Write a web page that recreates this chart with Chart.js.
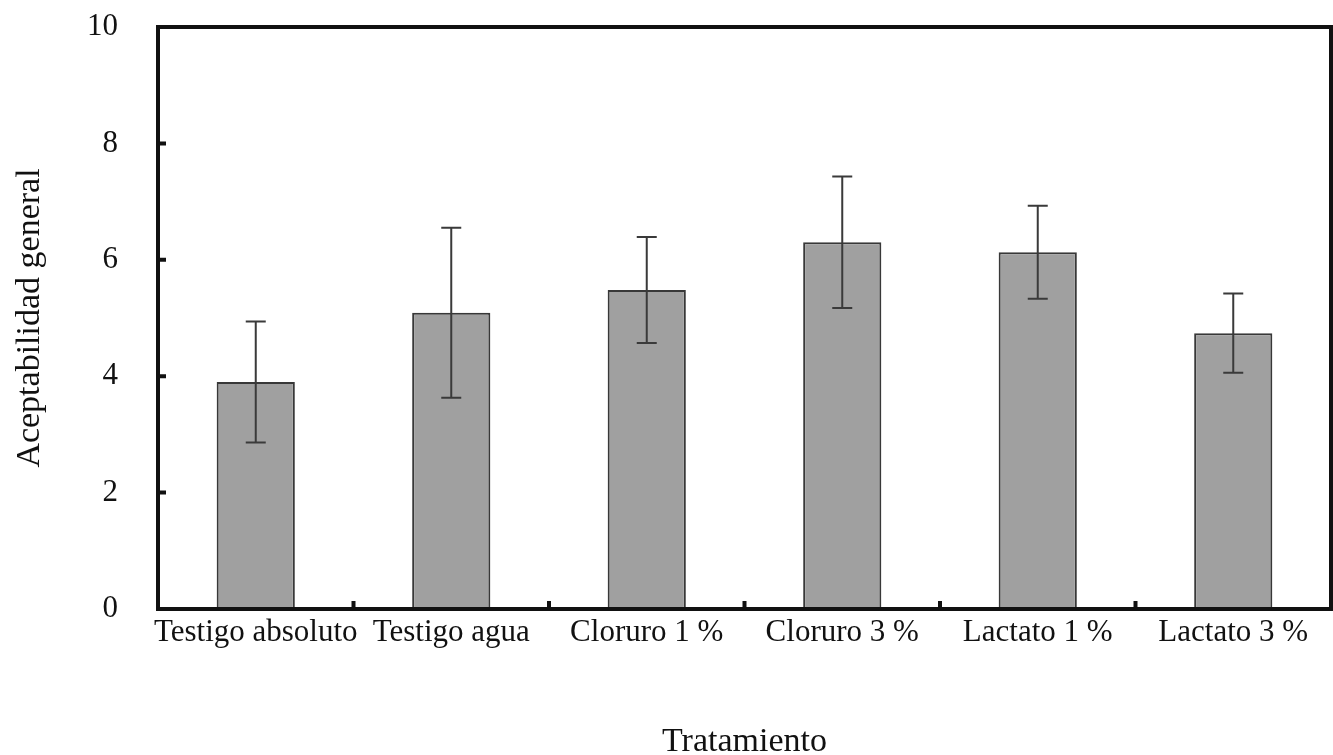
<!DOCTYPE html>
<html>
<head>
<meta charset="utf-8">
<script src="https://cdn.jsdelivr.net/npm/chart.js@4"></script>
<style>
  html, body { margin: 0; padding: 0; background: #fff; }
  #wrap { width: 1333px; height: 755px; }
</style>
</head>
<body>
<div id="wrap"><canvas id="grafico"></canvas></div>
<script>
// datos
const tratamientos = ['Testigo absoluto', 'Testigo agua', 'Cloruro 1 %', 'Cloruro 3 %', 'Lactato 1 %', 'Lactato 3 %'];
const aceptabilidad = [3.90, 5.09, 5.48, 6.30, 6.13, 4.74];
const desviacion = [1.04, 1.46, 0.91, 1.13, 0.80, 0.68];
const ticksY = [0, 2, 4, 6, 8, 10];

const fuente = "'Liberation Serif', 'Times New Roman', serif";

// marco, marcas y barras de error
const marcoPlugin = {
  id: 'marco',
  afterDatasetsDraw(chart) {
    const { ctx, chartArea: a, scales: { x, y } } = chart;
    ctx.save();
    // barras de error
    ctx.strokeStyle = '#3a3a3a';
    ctx.lineWidth = 2;
    aceptabilidad.forEach(function (v, i) {
      let cx = x.getPixelForValue(i);
      let yt = y.getPixelForValue(v + desviacion[i]);
      let yb = y.getPixelForValue(v - desviacion[i]);
      ctx.beginPath();
      ctx.moveTo(cx, yt); ctx.lineTo(cx, yb);
      ctx.moveTo(cx - 10, yt); ctx.lineTo(cx + 10, yt);
      ctx.moveTo(cx - 10, yb); ctx.lineTo(cx + 10, yb);
      ctx.stroke();
    });
    // marco
    ctx.strokeStyle = '#111';
    ctx.lineWidth = 4;
    ctx.strokeRect(a.left, a.top, a.right - a.left, a.bottom - a.top);
    // marcas eje y
    ctx.beginPath();
    for (let t of ticksY.slice(1, -1)) {
      let py = y.getPixelForValue(t);
      ctx.moveTo(a.left, py); ctx.lineTo(a.left + 8, py);
    }
    // marcas eje x entre categorias
    let paso = x.getPixelForValue(1) - x.getPixelForValue(0);
    for (let i = 0; i < tratamientos.length - 1; i++) {
      let px = x.getPixelForValue(i) + paso / 2;
      ctx.moveTo(px, a.bottom); ctx.lineTo(px, a.bottom - 8);
    }
    ctx.stroke();
    ctx.restore();
  },
};

new Chart(document.getElementById('grafico').getContext('2d'), {
  type: 'bar',
  data: {
    labels: tratamientos,
    datasets: [
      {
        label: 'Aceptabilidad general',
        data: aceptabilidad,
        backgroundColor: '#a0a0a0',
        borderColor: '#383838',
        borderWidth: 2,
        borderSkipped: false,
        categoryPercentage: 1,
        barPercentage: 0.4,
      },
    ],
  },
  options: {
    responsive: true,
    maintainAspectRatio: false,
    animation: false,
    layout: { padding: { top: 27, right: 2, left: 0, bottom: 0 } },
    plugins: { legend: { display: false }, tooltip: { enabled: false } },
    scales: {
      x: {
        grid: { display: false, drawTicks: false },
        border: { display: false },
        ticks: { color: '#111', padding: 5, maxRotation: 0, autoSkip: false, font: { family: fuente, size: 31 } },
        title: { display: true, text: 'Tratamiento', color: '#111', padding: { top: 0, bottom: -7 }, font: { family: fuente, size: 34 } },
        afterFit(scale) {
          scale.height = 146;
          scale.paddingLeft = 0;
          scale.paddingRight = 0;
        },
      },
      y: {
        min: 0,
        max: 10,
        grid: { display: false, drawTicks: false },
        border: { display: false },
        afterBuildTicks(scale) { scale.ticks = ticksY.map(function (v) { return { value: v }; }); },
        ticks: { color: '#111', padding: 40, font: { family: fuente, size: 31 } },
        title: { display: true, text: 'Aceptabilidad general', color: '#111', padding: { top: 10, bottom: 0 }, font: { family: fuente, size: 34 } },
        afterFit(scale) {
          scale.width = 158;
          scale.paddingTop = 0;
          scale.paddingBottom = 0;
        },
      },
    },
  },
  plugins: [marcoPlugin],
});
</script>
</body>
</html>
